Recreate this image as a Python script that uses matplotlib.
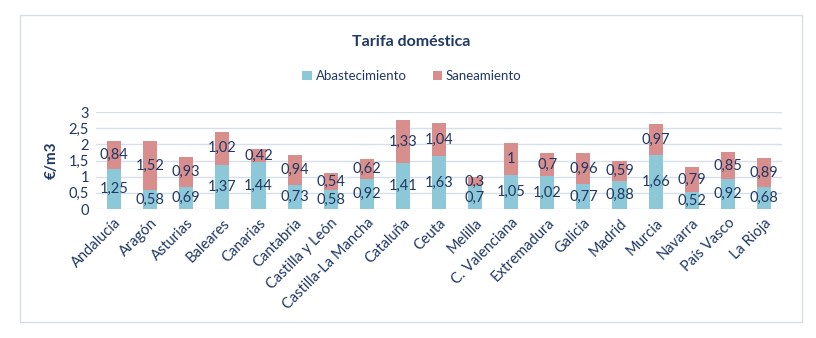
import matplotlib.pyplot as plt
from matplotlib.patches import Rectangle

plt.rcParams['font.family'] = ['Lato', 'DejaVu Sans']

regiones = ["Andalucía", "Aragón", "Asturias", "Baleares", "Canarias", "Cantabria",
            "Castilla y León", "Castilla-La Mancha", "Cataluña", "Ceuta", "Melilla",
            "C. Valenciana", "Extremadura", "Galicia", "Madrid", "Murcia", "Navarra",
            "País Vasco", "La Rioja"]
abastecimiento = [1.25, 0.58, 0.69, 1.37, 1.44, 0.73, 0.58, 0.92, 1.41, 1.63, 0.7,
                  1.05, 1.02, 0.77, 0.88, 1.66, 0.52, 0.92, 0.68]
saneamiento = [0.84, 1.52, 0.93, 1.02, 0.42, 0.94, 0.54, 0.62, 1.33, 1.04, 0.3,
               1.0, 0.7, 0.96, 0.59, 0.97, 0.79, 0.85, 0.89]

azul = "#8DC8D8"
rojo = "#D88E8C"
texto = "#1F3864"
rejilla = "#D5E0EA"

fig = plt.figure(figsize=(8.16, 3.38), dpi=100)
# marco exterior del grafico
fig.patches.append(Rectangle((20 / 816, 1 - 322 / 338), 782 / 816, 307 / 338,
                             transform=fig.transFigure, fill=False,
                             edgecolor="#D3DEE6", linewidth=1))

ax = fig.add_axes([96 / 816, 1 - 209 / 338, 686 / 816, 97 / 338])
x = range(len(regiones))
b1 = ax.bar(x, abastecimiento, width=0.39, color=azul, label="Abastecimiento", zorder=2)
b2 = ax.bar(x, saneamiento, width=0.39, bottom=abastecimiento, color=rojo,
            label="Saneamiento", zorder=2)

fmt = lambda v: f"{v:g}".replace(".", ",")
ax.bar_label(b1, labels=[fmt(v) for v in abastecimiento], label_type="center",
             color=texto, fontsize=10.5)
ax.bar_label(b2, labels=[fmt(v) for v in saneamiento], label_type="center",
             color=texto, fontsize=10.5)

ax.set_xlim(-0.5, len(regiones) - 0.5)
ax.set_ylim(0, 3)
ax.set_yticks([0, 0.5, 1, 1.5, 2, 2.5, 3])
ax.set_yticklabels(["0", "0,5", "1", "1,5", "2", "2,5", "3"], color=texto, fontsize=10.5)
ax.set_xticks(list(x))
ax.set_xticklabels(regiones, rotation=45, ha="right", rotation_mode="anchor",
                   color=texto, fontsize=10.5)
ax.tick_params(length=0, pad=5)
ax.grid(axis="y", color=rejilla, linewidth=1, zorder=0)
for s in ax.spines.values():
    s.set_visible(False)

fig.text(52 / 816, 1 - 160 / 338, "€/m3", rotation=90, ha="center", va="center",
         fontsize=11, fontweight="bold", color=texto)
fig.text(411 / 816, 1 - 42 / 338, "Tarifa doméstica", ha="center", va="center",
         fontsize=11.5, fontweight="bold", color=texto)
fig.legend(handles=[b1, b2], loc="center", bbox_to_anchor=(412 / 816, 1 - 76 / 338),
           ncol=2, frameon=False, fontsize=9.5, labelcolor=texto,
           handlelength=0.7, handleheight=0.7, handletextpad=0.3, columnspacing=2.0)

fig.savefig("out.png", dpi=100, facecolor="white")
